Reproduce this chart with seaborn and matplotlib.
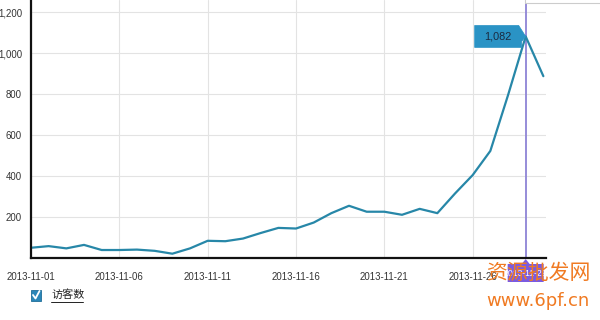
import matplotlib
matplotlib.use("Agg")
import matplotlib.pyplot as plt
import matplotlib.dates as mdates
import seaborn as sns
import pandas as pd
from matplotlib.patches import Rectangle, Polygon
from matplotlib.lines import Line2D

# ---- data ----
dates = ["2013-11-01", "2013-11-02", "2013-11-03", "2013-11-04", "2013-11-05",
         "2013-11-06", "2013-11-07", "2013-11-08", "2013-11-09", "2013-11-10",
         "2013-11-11", "2013-11-12", "2013-11-13", "2013-11-14", "2013-11-15",
         "2013-11-16", "2013-11-17", "2013-11-18", "2013-11-19", "2013-11-20",
         "2013-11-21", "2013-11-22", "2013-11-23", "2013-11-24", "2013-11-25",
         "2013-11-26", "2013-11-27", "2013-11-28", "2013-11-29", "2013-11-30"]
visitors = [50, 58, 47, 64, 39, 39, 41, 35, 21, 47,
            84, 82, 95, 122, 147, 144, 173, 219, 255, 226,
            226, 211, 240, 219, 315, 405, 523, 795, 1082, 888]
x_tick_labels = ["2013-11-01", "2013-11-06", "2013-11-11", "2013-11-16",
                 "2013-11-21", "2013-11-26"]
y_ticks = [200, 400, 600, 800, 1000, 1200]
y_tick_labels = ["200", "400", "600", "800", "1,000", "1,200"]
series_name = "访客数"
highlight_date = "2013-11-29"
highlight_value = 1082
highlight_label = "1,082"

sns.set_theme(style="white")
plt.rcParams["font.family"] = ["Liberation Sans", "Noto Sans CJK SC", "DejaVu Sans"]

df = pd.DataFrame({"date": pd.to_datetime(dates), "visitors": visitors})

W, H = 600, 320
fig = plt.figure(figsize=(6, 3.2), dpi=100)
fig.patch.set_facecolor("white")
ax = fig.add_axes([31 / W, 62 / H, (546 - 31) / W, 258 / H])

sns.lineplot(data=df, x="date", y="visitors", ax=ax, color="#2787a8",
             linewidth=1.6, legend=False)

ax.set_xlim(pd.Timestamp("2013-11-01"), pd.Timestamp("2013-11-01") + pd.Timedelta(days=29.15))
ax.set_ylim(0, 1260)
ax.set_xticks(pd.to_datetime(x_tick_labels))
ax.set_xticklabels(x_tick_labels)
ax.set_yticks(y_ticks)
ax.set_yticklabels(y_tick_labels)
ax.set_xlabel("")
ax.set_ylabel("")

ax.grid(True, color="#e3e3e3", linewidth=0.8)
ax.set_axisbelow(True)
for s in ["top", "right"]:
    ax.spines[s].set_visible(False)
for s in ["left", "bottom"]:
    ax.spines[s].set_color("#111111")
    ax.spines[s].set_linewidth(1.6)
ax.tick_params(axis="both", which="major", direction="out", length=5,
               width=1.0, color="#111111", labelsize=6.9, labelcolor="#333333")
ax.tick_params(axis="y", pad=1.5)
ax.tick_params(axis="x", pad=5)

# highlight vertical line
hx = pd.Timestamp(highlight_date)
ax.axvline(hx, color="#8e84d6", linewidth=1.3, zorder=1)

inv = fig.transFigure.inverted()

def fig_from_px(px, py):
    # px, py: pixel offsets, y measured downward
    return inv.transform((px, H - py))

# tooltip (box with pointer to the peak)
tip_disp = ax.transData.transform((mdates.date2num(hx), highlight_value))
tx, ty = tip_disp[0], H - tip_disp[1]   # pixel coords, y downward
offs = [(-51, -11), (-7, -11), (0, 0), (-4, 5), (-4, 11), (-51, 11)]
tooltip = Polygon([fig_from_px(tx + dx, ty + dy) for dx, dy in offs], closed=True,
                  transform=fig.transFigure, fc="#2a93c5", ec="#2a93c5", lw=0.5, zorder=6)
fig.patches.append(tooltip)
lx, ly = fig_from_px(tx - 28, ty)
fig.text(lx, ly, highlight_label, ha="center", va="center", fontsize=7.8,
         color="#1b2a40", zorder=7)

# purple date marker on x axis
base_disp = ax.transData.transform((mdates.date2num(hx), 0))
bx, by = base_disp[0], H - base_disp[1]
moffs = [(-18, 6), (-4, 6), (0, 1), (4, 6), (18, 6), (18, 24), (-18, 24)]
marker = Polygon([fig_from_px(bx + dx, by + dy) for dx, dy in moffs], closed=True,
                 transform=fig.transFigure, fc="#7b5be0", ec="none", zorder=5)
fig.patches.append(marker)
mx, my = fig_from_px(bx, by + 15)
fig.text(mx, my, highlight_date, ha="center", va="center", fontsize=6.2,
         color="white", zorder=6)

# legend checkbox
cb = Rectangle((31 / W, (H - 301) / H), 10 / W, 11 / H, transform=fig.transFigure,
               fc="#2a86b8", ec="#1f6e99", lw=0.6)
fig.patches.append(cb)
fig.lines.append(Line2D([33 / W, 35.5 / W, 39.5 / W],
                        [(H - 295) / H, (H - 298.5) / H, (H - 291) / H],
                        transform=fig.transFigure, color="white", lw=1.3))
fig.text(51 / W, (H - 295) / H, series_name, ha="left", va="center", fontsize=8,
         color="#222222", family=["Noto Sans CJK SC", "DejaVu Sans"])
fig.lines.append(Line2D([51 / W, 83 / W], [(H - 302) / H, (H - 302) / H],
                        transform=fig.transFigure, color="#222222", lw=0.7))

# top-right fragment box
fig.patches.append(Rectangle((525 / W, (H - 3) / H), 80 / W, 6 / H, transform=fig.transFigure,
                             fc="white", ec="#cccccc", lw=0.8))

# watermark
fig.text(538 / W, (H - 273) / H, "资源批发网", ha="center", va="center", fontsize=15,
         color="#f07a22", family=["Noto Sans CJK SC", "DejaVu Sans"], zorder=10)
fig.text(538 / W, (H - 301) / H, "www.6pf.cn", ha="center", va="center", fontsize=13,
         color="#f07a22", family=["DejaVu Sans"], zorder=10)

fig.savefig("out.png", dpi=100, facecolor="white")
